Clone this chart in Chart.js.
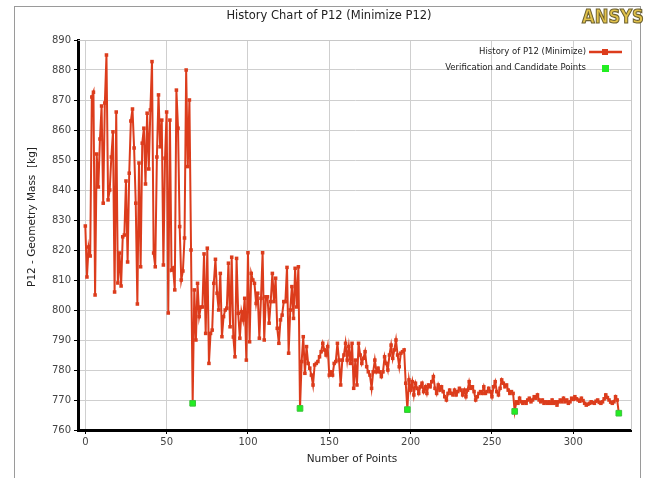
<!DOCTYPE html>
<html lang="en">
<head>
<meta charset="UTF-8" />
<title>History Chart of P12</title>
<script src="https://cdn.jsdelivr.net/npm/chart.js"></script>
<style>
  html, body { margin: 0; padding: 0; background: #fff; }
  #wrap { width: 651px; height: 478px; }
</style>
</head>
<body>
<div id="wrap"><canvas id="historyChart" width="651" height="478"></canvas></div>
<script>
// P12 values per design generation
const phase1 = [828, 811, 821, 818, 871, 872.6, 805, 852, 841, 857, 868, 835.6, 869, 885, 836.7, 840, 851, 859.4, 806, 866,
  809, 819, 808, 824.4, 825, 843, 816, 845.6, 863, 867, 854, 835.6, 802, 849, 814.4, 855.6, 860.6, 842, 865.6, 847,
  866.7, 882.8, 819, 814.4, 851, 871.7, 854.4, 863.3, 815, 850.6, 866, 799, 863.3, 813.3, 814, 806.7, 873.3, 860.6, 827.8, 810,
  813, 824, 880, 847.8, 870, 820];
const phase2 = [806.7, 790, 808.9, 797.8, 801, 801, 818.7, 792.2, 820.6, 782.2, 792.2, 793.3, 808.9, 816.9, 805.6, 800, 812.2, 791.1, 797.8, 800,
  800.6, 815.6, 794.4, 817.6, 791, 784.4, 817.2, 798.9, 790.6, 799.4, 796.7, 803.9, 783.3, 819.1, 789.4, 812.2, 810, 808.9, 802.2, 805.6,
  790.6, 803.9, 819.1, 790, 804.4, 804.4, 795.6, 802.8, 812.2, 802.8, 810.6, 793.9, 788.9, 796.7, 798.3, 802.8, 802.8, 814.2, 785.6, 800,
  807.8, 797.2, 813.9, 801, 814.4];
const phase3 = [782.8, 791.1, 778.9, 787.8, 782.2, 780.6, 778.3, 775, 781.7, 782.2, 782.8, 784.4, 786.1, 788.9, 786.7, 785, 787.8, 778.3, 779.4, 778.3,
  782.2, 782.8, 788.9, 783.3, 775, 783.3, 785, 788.9, 783.3, 787.8, 782.2, 788.9, 773.9, 783.3, 775, 788.9, 785, 782.2, 783.9, 786.1,
  781.1, 779.4, 778.3, 773.9, 779.4, 783.3, 779.4, 780.6, 779.4, 777.8, 779.4, 784.4, 782.2, 780, 785, 788.3, 783.9, 786.7, 790, 785,
  781.1, 785.6, 786.1, 786.7, 775.6];
const phase4 = [776.7, 773.3, 776.1, 771.7, 775.6, 773.9, 772.2, 774.4, 775.6, 772.8, 774.4, 772.2, 775, 774.4, 776.1, 777.8, 773.9, 772.2, 775, 773.3,
  774.4, 772.8, 771.1, 770, 772.2, 773.3, 772.2, 771.7, 773.3, 771.7, 772.8, 773.9, 773.3, 771.7, 773.3, 771.1, 773.3, 776.1, 773.9, 774.4,
  772.8, 770, 771.1, 772.2, 772.8, 772.2, 774.4, 772.2, 772.8, 773.9, 772.8, 771.1, 774.4, 776.1, 772.8, 771.7, 773.9, 776.7, 775.6, 774.4,
  775, 773.3, 772.2, 772.8, 772.2];
const phase5 = [769.4, 768.9, 770.6, 769.4, 768.9, 769.4, 768.9, 770, 770.6, 769.4, 770, 771.1, 770.6, 771.7, 770, 769.4, 770, 768.9, 769.4, 768.9,
  769.4, 768.9, 770, 768.9, 769.4, 768.3, 769.4, 770, 769.4, 770.6, 769.4, 770, 768.9, 769.4, 770.6, 770.2, 771.1, 770.4, 770, 769.6,
  770.6, 769.8, 768.9, 768.3, 768.6, 768.9, 769.4, 769.1, 768.9, 769.6, 770, 769.2, 768.9, 769.4, 770.4, 771.7, 770.8, 770, 769.3, 768.9,
  769.4, 771.1, 770];
// verification / candidate point closing each generation
const verifyValues = [768.9, 767.2, 766.8, 766.2, 765.6];

const xTicks = [0, 50, 100, 150, 200, 250, 300];
const yTicks = [760, 770, 780, 790, 800, 810, 820, 830, 840, 850, 860, 870, 880, 890];

const RED = '#dc3c1c';
const GREEN = '#22ee22';

const history = [];
const verifyPts = [];
[phase1, phase2, phase3, phase4, phase5].forEach((p, k) => {
  p.forEach(v => history.push({ x: history.length, y: v }));
  verifyPts.push({ x: history.length, y: verifyValues[k] });
  history.push({ x: history.length, y: verifyValues[k] });
});

const decor = {
  id: 'decor',
  afterDraw(chart) {
    const ctx = chart.ctx;
    const a = chart.chartArea;
    ctx.save();
    // outer frame
    ctx.strokeStyle = '#9a9a9a';
    ctx.lineWidth = 1;
    ctx.strokeRect(14.5, 6.5, 626, 480);
    // plot frame top / right
    ctx.strokeStyle = '#c8c8c8';
    ctx.beginPath();
    ctx.moveTo(a.left, a.top + 0.5);
    ctx.lineTo(a.right + 0.5, a.top + 0.5);
    ctx.lineTo(a.right + 0.5, a.bottom);
    ctx.stroke();

    // title
    ctx.fillStyle = '#222';
    ctx.font = '11.5px "DejaVu Sans"';
    ctx.textAlign = 'center';
    ctx.textBaseline = 'middle';
    ctx.fillText('History Chart of P12 (Minimize P12)', 329, 16);

    // axis titles
    ctx.font = '10.5px "DejaVu Sans"';
    ctx.fillText('Number of Points', 352, 459);
    ctx.save();
    ctx.translate(32, 217);
    ctx.rotate(-Math.PI / 2);
    ctx.fillText('P12 - Geometry Mass  [kg]', 0, 0);
    ctx.restore();

    // legend
    ctx.font = '8.5px "DejaVu Sans"';
    ctx.textAlign = 'right';
    ctx.fillText('History of P12 (Minimize)', 586, 52);
    ctx.fillText('Verification and Candidate Points', 586, 68);
    ctx.strokeStyle = RED;
    ctx.lineWidth = 2.5;
    ctx.beginPath();
    ctx.moveTo(589, 52);
    ctx.lineTo(622, 52);
    ctx.stroke();
    ctx.fillStyle = RED;
    ctx.fillRect(602, 49, 6, 6);
    ctx.fillStyle = GREEN;
    ctx.fillRect(602, 65, 7, 7);

    // ANSYS logo
    ctx.save();
    ctx.translate(582, 23);
    ctx.scale(0.82, 1);
    ctx.font = 'bold 20px "DejaVu Sans"';
    ctx.textAlign = 'left';
    ctx.textBaseline = 'alphabetic';
    ctx.fillStyle = '#e2c24a';
    ctx.strokeStyle = '#6e6230';
    ctx.lineWidth = 1.2;
    ctx.fillText('ANSYS', 0, 0);
    ctx.strokeText('ANSYS', 0, 0);
    ctx.restore();
    ctx.restore();
  }
};

new Chart(document.getElementById('historyChart'), {
  type: 'line',
  data: {
    datasets: [
      {
        label: 'History of P12 (Minimize)',
        data: history,
        order: 1,
        borderColor: RED,
        backgroundColor: RED,
        borderWidth: 2,
        pointStyle: 'rect',
        pointRadius: 2.5,
        pointBorderWidth: 0,
        tension: 0
      },
      {
        label: 'Verification and Candidate Points',
        data: verifyPts,
        order: 0,
        showLine: false,
        pointStyle: 'rect',
        pointRadius: 4,
        backgroundColor: GREEN,
        borderColor: '#3cc23c',
        pointBorderWidth: 1
      }
    ]
  },
  options: {
    responsive: false,
    animation: false,
    layout: { padding: { left: 18, right: 20, top: 40, bottom: 0 } },
    plugins: { legend: { display: false }, tooltip: { enabled: false } },
    scales: {
      x: {
        type: 'linear',
        min: -4.5,
        max: 335.5,
        afterBuildTicks: s => { s.ticks = xTicks.map(v => ({ value: v })); },
        afterFit: s => { s.height = 48; },
        grid: { color: '#cfcfcf', tickColor: '#000', tickLength: 4 },
        border: { color: '#000', width: 3 },
        ticks: { font: { family: 'DejaVu Sans', size: 10 }, color: '#444', padding: 2, maxRotation: 0 }
      },
      y: {
        min: 760,
        max: 890,
        afterBuildTicks: s => { s.ticks = yTicks.map(v => ({ value: v })); },
        afterFit: s => { s.width = 60; },
        grid: { color: '#cfcfcf', tickColor: '#000', tickLength: 4 },
        border: { color: '#000', width: 3 },
        ticks: { font: { family: 'DejaVu Sans', size: 10 }, color: '#444', padding: 3 }
      }
    }
  },
  plugins: [decor]
});
</script>
</body>
</html>
